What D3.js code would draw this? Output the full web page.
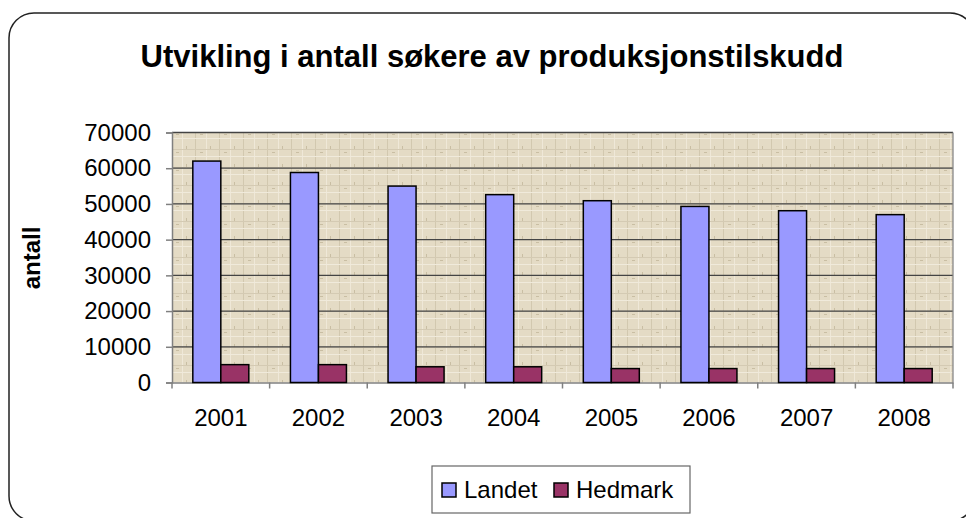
<!DOCTYPE html>
<html>
<head>
<meta charset="utf-8">
<script src="https://cdn.jsdelivr.net/npm/d3@7"></script>
<style>
  html, body { margin: 0; padding: 0; background: #fff; }
  svg { display: block; font-family: "Liberation Sans", Arial, sans-serif; }
</style>
</head>
<body>
<div id="chart"></div>
<script>
// data
const years = ["2001", "2002", "2003", "2004", "2005", "2006", "2007", "2008"];
const series = ["Landet", "Hedmark"];
const landet = [62000, 58800, 55000, 52600, 50900, 49300, 48100, 47000];
const hedmark = [5000, 5000, 4400, 4400, 3900, 3900, 3900, 3900];
const yTicks = [0, 10000, 20000, 30000, 40000, 50000, 60000, 70000];
const colors = { Landet: "#9999ff", Hedmark: "#993366" };

const width = 966, height = 518;
const plot = { left: 172, right: 953, top: 132.5, bottom: 382.5 };

const svg = d3.select("#chart").append("svg")
  .attr("width", width)
  .attr("height", height);

// ytre ramme (avrundet)
svg.append("rect")
  .attr("x", 9).attr("y", 13)
  .attr("width", 966).attr("height", 508)
  .attr("rx", 25).attr("ry", 25)
  .attr("fill", "#fff")
  .attr("stroke", "#222")
  .attr("stroke-width", 1.5);

// bakgrunnsmønster for plottområdet
const defs = svg.append("defs");
const pat = defs.append("pattern")
  .attr("id", "paper")
  .attr("patternUnits", "userSpaceOnUse")
  .attr("width", 24).attr("height", 18);
pat.append("rect").attr("width", 24).attr("height", 18).attr("fill", "#e4dbc5");
pat.append("rect").attr("x", 3).attr("y", 0).attr("width", 1).attr("height", 18).attr("fill", "#d2c8af");
pat.append("rect").attr("x", 14).attr("y", 0).attr("width", 1).attr("height", 18).attr("fill", "#efe8d8");
pat.append("rect").attr("x", 0).attr("y", 5).attr("width", 24).attr("height", 1).attr("fill", "#d4cab3");
pat.append("rect").attr("x", 0).attr("y", 12).attr("width", 24).attr("height", 1).attr("fill", "#f0eadb");
pat.append("rect").attr("x", 8).attr("y", 8).attr("width", 3).attr("height", 1).attr("fill", "#c9bea3");
pat.append("rect").attr("x", 18).attr("y", 2).attr("width", 1).attr("height", 3).attr("fill", "#c9bea3");

// skalaer
const y = d3.scaleLinear().domain([0, 70000]).range([plot.bottom, plot.top]);
const x0 = d3.scaleBand().domain(years).range([plot.left, plot.right]).padding(0);
const groupW = 56;
const x1 = d3.scaleBand().domain(series)
  .range([(x0.bandwidth() - groupW) / 2, (x0.bandwidth() + groupW) / 2]);

svg.append("rect")
  .attr("x", plot.left).attr("y", plot.top)
  .attr("width", plot.right - plot.left).attr("height", plot.bottom - plot.top)
  .attr("fill", "url(#paper)");

// rutenett
svg.append("g")
  .selectAll("line")
  .data(yTicks.filter(d => d > 0))
  .join("line")
  .attr("x1", plot.left).attr("x2", plot.right)
  .attr("y1", d => y(d)).attr("y2", d => y(d))
  .attr("stroke", "#444")
  .attr("stroke-width", 1.3);

// høyre kant
svg.append("line")
  .attr("x1", plot.right).attr("x2", plot.right)
  .attr("y1", plot.top).attr("y2", plot.bottom)
  .attr("stroke", "#888").attr("stroke-width", 1.3);

// y-akse
const yAxis = svg.append("g")
  .attr("transform", `translate(${plot.left},0)`)
  .call(d3.axisLeft(y).tickValues(yTicks).tickSize(6).tickPadding(15).tickFormat(d3.format("d")));
yAxis.select(".domain").attr("stroke", "#808080").attr("stroke-width", 1.5);
yAxis.selectAll(".tick line").attr("stroke", "#808080").attr("stroke-width", 1.5);
yAxis.selectAll("text")
  .attr("fill", "#000")
  .attr("font-size", 24)
  .attr("font-family", "Liberation Sans, Arial, sans-serif");

// x-akse
const xAxis = svg.append("g")
  .attr("transform", `translate(0,${plot.bottom})`)
  .call(d3.axisBottom(x0).tickSize(0).tickPadding(26));
xAxis.select(".domain").attr("stroke", "#808080").attr("stroke-width", 1.5);
xAxis.selectAll("text")
  .attr("fill", "#000")
  .attr("font-size", 24)
  .attr("font-family", "Liberation Sans, Arial, sans-serif");
// hakemerker mellom kategoriene
xAxis.selectAll(".sep")
  .data(years.concat(["end"]))
  .join("line")
  .attr("class", "sep")
  .attr("x1", (d, i) => plot.left + i * x0.step())
  .attr("x2", (d, i) => plot.left + i * x0.step())
  .attr("y1", 0).attr("y2", 6)
  .attr("stroke", "#808080").attr("stroke-width", 1.5);

// søyler
const rows = years.map((yr, i) => ({ year: yr, values: [
  { key: "Landet", value: landet[i] },
  { key: "Hedmark", value: hedmark[i] }
] }));

svg.append("g")
  .selectAll("g")
  .data(rows)
  .join("g")
  .attr("transform", d => `translate(${x0(d.year)},0)`)
  .selectAll("rect")
  .data(d => d.values)
  .join("rect")
  .attr("x", d => x1(d.key))
  .attr("y", d => y(d.value))
  .attr("width", x1.bandwidth())
  .attr("height", d => y(0) - y(d.value))
  .attr("fill", d => colors[d.key])
  .attr("stroke", "#000")
  .attr("stroke-width", 1.5);

// tittel
svg.append("text")
  .attr("x", 492).attr("y", 67)
  .attr("text-anchor", "middle")
  .attr("font-size", 31)
  .attr("font-weight", "bold")
  .text("Utvikling i antall søkere av produksjonstilskudd");

// y-tittel
svg.append("text")
  .attr("transform", "translate(40,258) rotate(-90)")
  .attr("text-anchor", "middle")
  .attr("font-size", 24)
  .attr("font-weight", "bold")
  .text("antall");

// forklaring
const legend = svg.append("g");
legend.append("rect")
  .attr("x", 432).attr("y", 466)
  .attr("width", 258).attr("height", 47)
  .attr("fill", "#fff")
  .attr("stroke", "#666").attr("stroke-width", 1.2);

const legendPos = [{ key: "Landet", sx: 442, tx: 464 }, { key: "Hedmark", sx: 554, tx: 576 }];
legend.selectAll(".sw")
  .data(legendPos)
  .join("rect")
  .attr("class", "sw")
  .attr("x", d => d.sx).attr("y", 483)
  .attr("width", 14).attr("height", 14)
  .attr("fill", d => colors[d.key])
  .attr("stroke", "#000").attr("stroke-width", 1.5);
legend.selectAll(".lt")
  .data(legendPos)
  .join("text")
  .attr("class", "lt")
  .attr("x", d => d.tx).attr("y", 498)
  .attr("font-size", 24)
  .text(d => d.key);
</script>
</body>
</html>
